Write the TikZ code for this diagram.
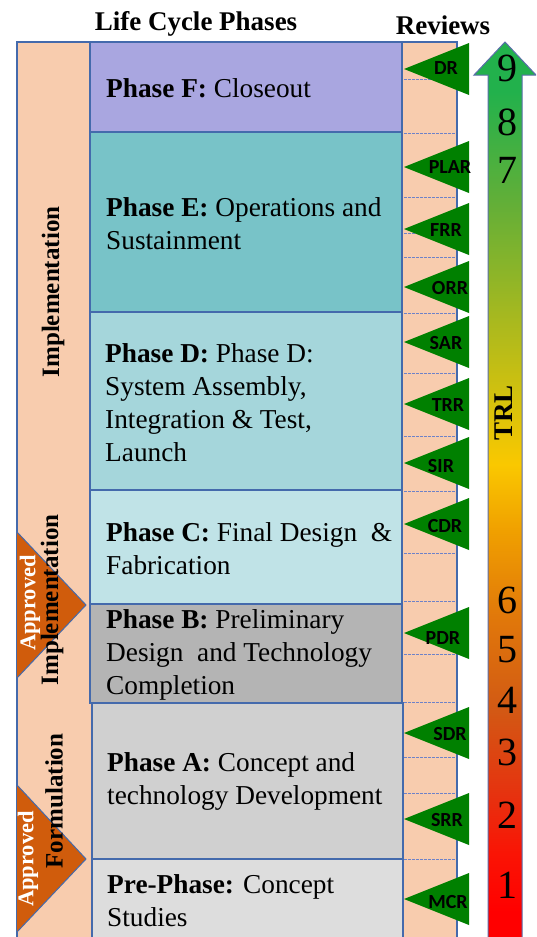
\documentclass[tikz,border=0pt]{standalone}
\usepackage{fontspec}
\setmainfont{Liberation Serif}
\newfontfamily\calib{Carlito}
\definecolor{peach}{RGB}{248,204,174}
\definecolor{bord}{RGB}{68,106,172}
\definecolor{dashc}{RGB}{110,130,200}
\definecolor{phF}{RGB}{169,166,224}
\definecolor{phE}{RGB}{120,195,200}
\definecolor{phD}{RGB}{165,214,219}
\definecolor{phC}{RGB}{192,227,231}
\definecolor{phB}{RGB}{180,180,180}
\definecolor{phA}{RGB}{208,208,208}
\definecolor{phP}{RGB}{221,221,221}
\definecolor{revg}{RGB}{0,128,0}
\definecolor{appr}{RGB}{208,92,12}
\definecolor{arrbord}{RGB}{90,110,170}
\definecolor{tA}{RGB}{255,0,0}
\definecolor{tB}{RGB}{250,20,5}
\definecolor{tC}{RGB}{230,50,15}
\definecolor{tD}{RGB}{210,90,20}
\definecolor{tE}{RGB}{225,120,10}
\definecolor{tF}{RGB}{240,160,0}
\definecolor{tG}{RGB}{250,200,0}
\definecolor{tH}{RGB}{220,195,10}
\definecolor{tI}{RGB}{170,185,30}
\definecolor{tJ}{RGB}{100,175,55}
\definecolor{tK}{RGB}{34,177,76}
\pgfdeclareverticalshading{trlshade}{100bp}{color(0bp)=(tA); color(25bp)=(tA); color(27.6bp)=(tA); color(30.8bp)=(tB); color(34bp)=(tC); color(38.8bp)=(tD); color(43.7bp)=(tE); color(48.4bp)=(tF); color(52bp)=(tG); color(54.8bp)=(tH); color(59.7bp)=(tI); color(66.1bp)=(tJ); color(72.3bp)=(tK); color(75bp)=(tK); color(100bp)=(tK)}
\begin{document}
\begin{tikzpicture}[x=1pt,y=-1pt,
  ptext/.style={font=\fontsize{27.3}{33}\selectfont, align=left, inner sep=0pt, anchor=west},
  titletext/.style={font=\fontsize{27}{32}\selectfont\bfseries, inner sep=0pt},
  vtext/.style={font=\fontsize{25}{30}\selectfont\bfseries, rotate=90, inner sep=0pt},
  apprtext/.style={font=\fontsize{22.5}{27}\selectfont\bfseries, text=white, rotate=90, inner sep=0pt},
  revlabel/.style={font=\calib\bfseries\fontsize{20}{24}\selectfont, inner sep=0pt},
  trlnum/.style={font=\fontsize{40}{40}\selectfont, inner sep=0pt},
  phasebox/.style={draw=bord, line width=1.6pt},
  revdash/.style={draw=dashc, line width=0.8pt, dash pattern=on 2.5pt off 1.5pt},
  revtri/.style={fill=revg},
  apprtri/.style={fill=appr, draw=bord, line width=1pt},
]
\useasboundingbox (0,0) rectangle (536,937);
\clip (0,0) rectangle (536,937);
\fill[white] (0,0) rectangle (536,937);

% titles
\node[titletext] (lcp) at (196,24) {Life Cycle Phases};
\node[titletext] (rev) at (443,25) {Reviews};

% outer frame
\draw[phasebox, fill=peach] (17,42) rectangle (457,960);

% left strip texts and approved triangles
\node[vtext] (impl1) at (53,292) {Implementation};
\draw[apprtri] (17,532) -- (86,605) -- (17,678);
\draw[apprtri] (17,785) -- (86,859) -- (17,932);
\node[vtext] (impl2) at (52,600) {Implementation};
\node[vtext] (form) at (54,801) {Formulation};
\node[apprtext] (ap1) at (30,603) {Approved};
\node[apprtext] (ap2) at (28,859) {Approved};

% phase boxes
\draw[phasebox, fill=phF] (90,42) rectangle (402,132);
\draw[phasebox, fill=phE] (90,132) rectangle (402,312);
\draw[phasebox, fill=phD] (90,312) rectangle (402,490);
\draw[phasebox, fill=phC] (90,490) rectangle (402,604);
\draw[phasebox, fill=phB] (90,604) rectangle (402,703);
\draw[phasebox, fill=phA] (92,703) rectangle (403,859);
\draw[phasebox, fill=phP] (92,859) rectangle (403,960);

% phase texts
\node[ptext] (tF) at (106,88) {\textbf{Phase F:} Closeout};
\node[ptext] (tE) at (106,223.5) {\textbf{Phase E:} Operations and\\Sustainment};
\node[ptext] (tD) at (105,402.5) {\textbf{Phase D:} Phase D:\\System Assembly,\\Integration \& Test,\\Launch};
\node[ptext] (tC) at (106,548.5) {\textbf{Phase C:} Final Design \ \&\\Fabrication};
\node[ptext] (tB) at (106,654.5) {\textbf{Phase B:} Preliminary\\Design \ and Technology\\Completion};
\node[ptext] (tA) at (107,781.5) {\textbf{Phase A:} Concept and\\technology Development};
\node[ptext] (tP) at (107,901) {\textbf{Pre-Phase:} Concept\\Studies};

% dashed lines in review column
\foreach \yy in {79,133,197,233,257,313,373,436,491,553,601,654,702,757,793,859}
  \draw[revdash] (404,\yy) -- (455,\yy);

% review triangles
\foreach \nm/\yy/\lx/\ly in {DR/69/446/68, PLAR/167/450/167, FRR/229/446/230, ORR/287/450/288,
  SAR/342/446/343, TRR/404/448/405, SIR/463/441/466, CDR/524/445/526,
  PDR/633/443/638, SDR/733/450/734, SRR/819/447/820, MCR/899/448/902}{
  \fill[revtri] (404,\yy) -- (469,\yy-26) -- (469,\yy+26) -- cycle;
  \node[revlabel] (\nm) at (\lx,\ly) {\nm};
}

% TRL arrow
\shadedraw[shading=trlshade, draw=arrbord, line width=1pt]
  (488,960) -- (488,75) -- (474,75) -- (505,42) -- (536,75) -- (522,75) -- (522,960) -- cycle;
\node[trlnum] (n9) at (507,68) {9};
\node[trlnum] (n8) at (507,122) {8};
\node[trlnum] (n7) at (507,170) {7};
\node[trlnum] (n6) at (507,600) {6};
\node[trlnum] (n5) at (507,650) {5};
\node[trlnum] (n4) at (507,700) {4};
\node[trlnum] (n3) at (507,752) {3};
\node[trlnum] (n2) at (507,815) {2};
\node[trlnum] (n1) at (507,885) {1};
\node[titletext, rotate=90] (trl) at (504,413) {TRL};
\end{tikzpicture}
\end{document}
